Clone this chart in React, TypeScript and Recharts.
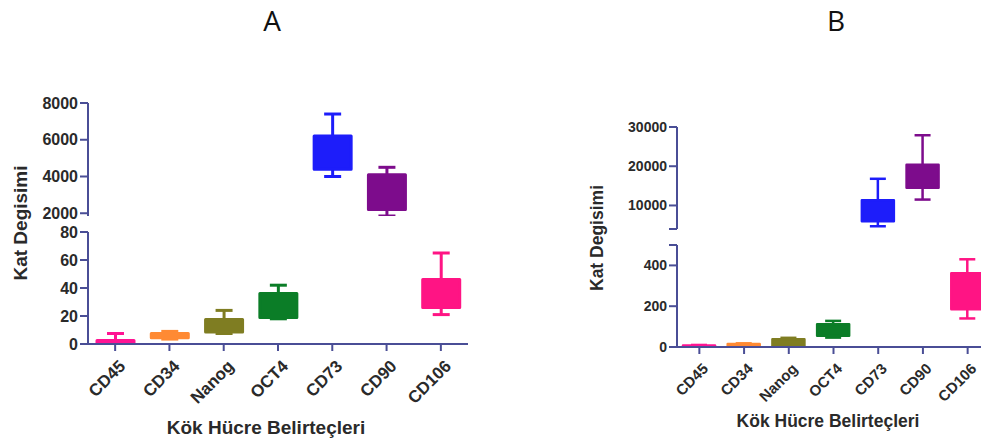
import React from 'react';
import { BarChart, Bar, XAxis, YAxis } from 'recharts';

const markers = ['CD45', 'CD34', 'Nanog', 'OCT4', 'CD73', 'CD90', 'CD106'];
const markerColors = ['#ff1493', '#ff8a33', '#7f7d22', '#0b7d27', '#1d1dfa', '#7d0c8c', '#ff1484'];

// Panel A — whisker low, lower quartile, upper quartile, whisker high
const minA = [0, 3.5, 7.5, 18, 4000, 1850, 21];
const q1A = [0.3, 4.5, 8.5, 19, 4400, 2200, 26];
const q3A = [2.5, 7.5, 17.5, 36, 6200, 4100, 46];
const maxA = [7.5, 9, 24, 42, 7400, 4500, 65];

// Panel B
const minB = [0, 2, 2, 46, 4700, 11500, 140];
const q1B = [1, 3, 5, 55, 6000, 14500, 185];
const q3B = [7, 15, 38, 112, 11300, 20400, 362];
const maxB = [10, 18, 45, 128, 16800, 27900, 430];

const ticksA_low = [0, 20, 40, 60, 80];
const ticksA_high = [2000, 4000, 6000, 8000];
const ticksB_low = [0, 200, 400, 500];
const ticksB_high = [4000, 10000, 20000, 30000];

const AXIS = '#4a4e96';
const TEXT = '#2a2a2a';
const FONT = '"Liberation Sans", Arial, sans-serif';

type Row = { name: string; min: number; q1: number; q3: number; max: number; color: string };

const buildRows = (mins: number[], q1s: number[], q3s: number[], maxs: number[]): Row[] =>
  markers.map((name, i) => ({ name, min: mins[i], q1: q1s[i], q3: q3s[i], max: maxs[i], color: markerColors[i] }));

const rowsA = buildRows(minA, q1A, q3A, maxA);
const rowsB = buildRows(minB, q1B, q3B, maxB);

// box + whiskers, positioned from the min..max range bar the library lays out
const makeBoxShape = (capWidth: number, lineWidth: number) => (props: any) => {
  const { x, y, width, height, payload } = props;
  if (!payload || !Number.isFinite(y) || !Number.isFinite(height)) return <g />;
  const top = Math.min(y, y + height);
  const bottom = Math.max(y, y + height);
  const span = payload.max - payload.min || 1;
  const py = (v: number) => top + ((payload.max - v) / span) * (bottom - top);
  const cx = x + width / 2;
  const c = payload.color;
  return (
    <g>
      <line x1={cx} x2={cx} y1={py(payload.max)} y2={py(payload.q3)} stroke={c} strokeWidth={lineWidth} />
      <line x1={cx} x2={cx} y1={py(payload.q1)} y2={py(payload.min)} stroke={c} strokeWidth={lineWidth} />
      <line x1={cx - capWidth / 2} x2={cx + capWidth / 2} y1={py(payload.max)} y2={py(payload.max)} stroke={c} strokeWidth={lineWidth} />
      <line x1={cx - capWidth / 2} x2={cx + capWidth / 2} y1={py(payload.min)} y2={py(payload.min)} stroke={c} strokeWidth={lineWidth} />
      <rect
        x={x}
        y={py(payload.q3)}
        width={width}
        height={Math.max(0, py(payload.q1) - py(payload.q3))}
        fill={c}
        stroke={c}
        strokeWidth={lineWidth}
        strokeLinejoin="round"
      />
    </g>
  );
};

const makeXTick = (fontSize: number, dx: number, dy: number) => (props: any) => {
  const { x, y, payload } = props;
  return (
    <g transform={`translate(${x + dx},${y + dy})`}>
      <text
        x={0}
        y={0}
        dy="0.35em"
        textAnchor="end"
        transform="rotate(-45)"
        fill={TEXT}
        fontSize={fontSize}
        fontWeight="bold"
        fontFamily={FONT}
      >
        {payload.value}
      </text>
    </g>
  );
};

type SegmentProps = {
  rows: Row[];
  left: number;
  top: number;
  width: number;
  height: number;
  axisWidth: number;
  marginTop: number;
  marginBottom: number;
  domain: [number, number];
  ticks: number[];
  hiddenTicks?: number[];
  showX: boolean;
  xAxisHeight?: number;
  barSize: number;
  capWidth: number;
  lineWidth: number;
  yFontSize: number;
  xFontSize: number;
  xTickShift?: [number, number];
};

const Segment = (p: SegmentProps) => {
  const [lo, hi] = p.domain;
  const [sx, sy] = p.xTickShift || [0, 0];
  // only boxes that live inside this part of the broken axis
  const range = (d: Row) => (d.min >= lo - 1e-9 && d.max <= hi + 1e-9 ? [d.min, d.max] : null);
  return (
    <div style={{ position: 'absolute', left: p.left, top: p.top }}>
      <BarChart
        width={p.width}
        height={p.height}
        data={p.rows}
        margin={{ top: p.marginTop, right: 0, bottom: p.marginBottom, left: 0 }}
        barSize={p.barSize}
      >
        <XAxis
          dataKey="name"
          hide={!p.showX}
          interval={0}
          height={p.xAxisHeight}
          axisLine={{ stroke: AXIS, strokeWidth: 2 }}
          tickLine={{ stroke: AXIS, strokeWidth: 2 }}
          tickSize={7}
          tick={makeXTick(p.xFontSize, sx, sy)}
        />
        <YAxis
          type="number"
          domain={p.domain}
          allowDataOverflow
          ticks={p.ticks}
          interval={0}
          width={p.axisWidth}
          axisLine={{ stroke: AXIS, strokeWidth: 2 }}
          tickLine={{ stroke: AXIS, strokeWidth: 2 }}
          tickSize={8}
          tickFormatter={(v: number) => (p.hiddenTicks && p.hiddenTicks.includes(v) ? '' : String(v))}
          tick={{ fill: TEXT, fontSize: p.yFontSize, fontWeight: 'bold', fontFamily: FONT }}
        />
        <Bar dataKey={range} isAnimationActive={false} shape={makeBoxShape(p.capWidth, p.lineWidth)} />
      </BarChart>
    </div>
  );
};

const textStyle: React.CSSProperties = {
  position: 'absolute',
  fontFamily: FONT,
  fontWeight: 'bold',
  color: TEXT,
  whiteSpace: 'nowrap',
  lineHeight: 1,
};

export default function App() {
  return (
    <div style={{ position: 'fixed', left: 0, top: 0, width: 981, height: 441, overflow: 'hidden', background: '#fff' }}>
      {/* panel A */}
      <Segment
        rows={rowsA}
        left={0}
        top={90}
        width={468}
        height={136}
        axisWidth={88}
        marginTop={13}
        marginBottom={10}
        domain={[1850, 8000]}
        ticks={ticksA_high}
        showX={false}
        barSize={37}
        capWidth={17}
        lineWidth={3}
        yFontSize={16}
        xFontSize={16}
      />
      <Segment
        rows={rowsA}
        left={0}
        top={220}
        width={468}
        height={219}
        axisWidth={88}
        marginTop={12}
        marginBottom={0}
        domain={[0, 80]}
        ticks={ticksA_low}
        showX
        xAxisHeight={95}
        barSize={37}
        capWidth={17}
        lineWidth={3}
        yFontSize={16}
        xFontSize={17}
        xTickShift={[7, 10]}
      />
      <div style={{ ...textStyle, fontSize: 19, left: 20, top: 223, transform: 'translate(-50%, -50%) rotate(-90deg)' }}>
        Kat Degisimi
      </div>
      <div style={{ ...textStyle, fontSize: 19, left: 266, top: 427, transform: 'translate(-50%, -50%)' }}>
        Kök Hücre Belirteçleri
      </div>
      <div style={{ ...textStyle, fontWeight: 'normal', color: '#111', fontFamily: '"Open Sans", sans-serif', fontSize: 28, left: 272, top: 20, transform: 'translate(-50%, -50%)' }}>
        A
      </div>

      {/* panel B */}
      <Segment
        rows={rowsB}
        left={590}
        top={114}
        width={400}
        height={125}
        axisWidth={87}
        marginTop={13}
        marginBottom={10}
        domain={[4000, 30000]}
        ticks={ticksB_high}
        hiddenTicks={[4000]}
        showX={false}
        barSize={32}
        capWidth={16}
        lineWidth={2.5}
        yFontSize={14}
        xFontSize={14}
      />
      <Segment
        rows={rowsB}
        left={590}
        top={233}
        width={400}
        height={209}
        axisWidth={87}
        marginTop={12}
        marginBottom={0}
        domain={[0, 500]}
        ticks={ticksB_low}
        hiddenTicks={[500]}
        showX
        xAxisHeight={95}
        barSize={32}
        capWidth={16}
        lineWidth={2.5}
        yFontSize={14}
        xFontSize={15}
        xTickShift={[6, 10]}
      />
      <div style={{ ...textStyle, fontSize: 17.5, left: 598, top: 238, transform: 'translate(-50%, -50%) rotate(-90deg)' }}>
        Kat Degisimi
      </div>
      <div style={{ ...textStyle, fontSize: 17.5, left: 828, top: 422, transform: 'translate(-50%, -50%)' }}>
        Kök Hücre Belirteçleri
      </div>
      <div style={{ ...textStyle, fontWeight: 'normal', color: '#111', fontFamily: '"Open Sans", sans-serif', fontSize: 28, left: 836, top: 20, transform: 'translate(-50%, -50%)' }}>
        B
      </div>
    </div>
  );
}
